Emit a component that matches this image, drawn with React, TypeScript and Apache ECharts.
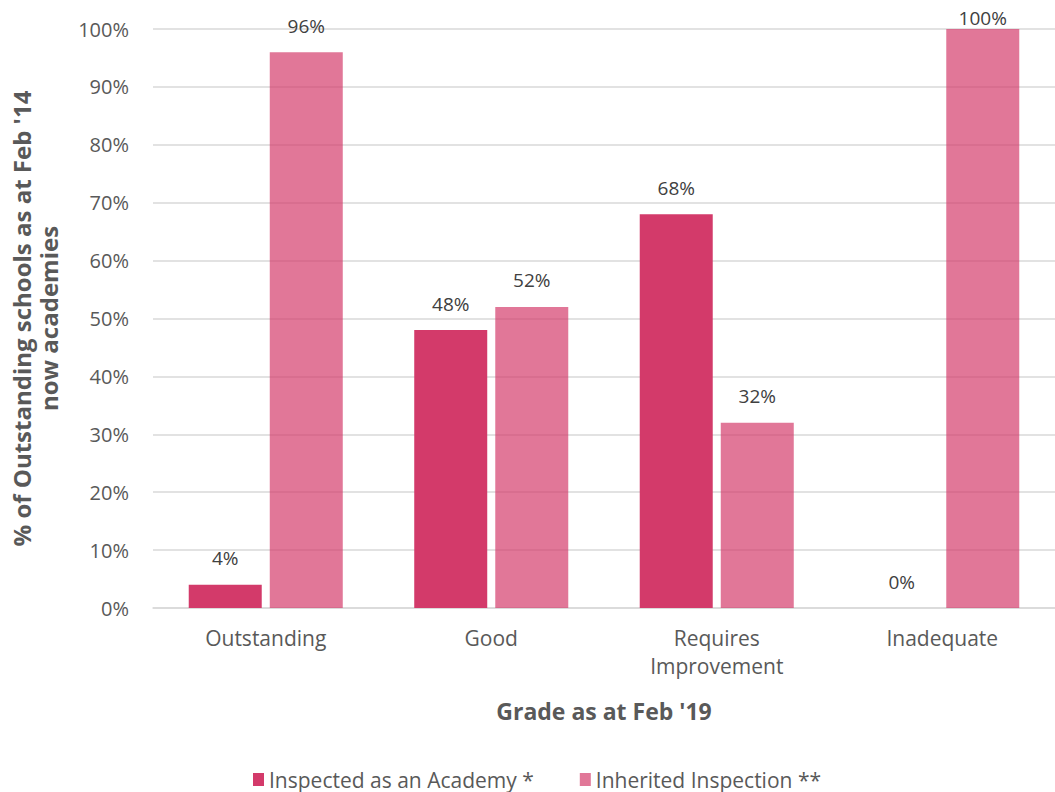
import React, { useEffect, useRef } from "react";
import * as echarts from "echarts";

const categories = ["Outstanding", "Good", "Requires\nImprovement", "Inadequate"];
const academyValues = [4, 48, 68, 0];
const inheritedValues = [96, 52, 32, 100];
const seriesNames = ["Inspected as an Academy *", "Inherited Inspection **"];

const FONT = "'Open Sans', sans-serif";
const DARK = "#d33a6a";
const LIGHT = "rgba(211,58,106,0.69)";

export default function App() {
  const ref = useRef<HTMLDivElement>(null);
  useEffect(() => {
    if (!ref.current) return;
    const chart = echarts.init(ref.current, null, { renderer: "svg" });
    const labelFor = (v: number) => ({
      show: true,
      position: "top",
      distance: v >= 100 ? 2 : 17,
      formatter: "{c}%",
      color: "#404040",
      fontSize: 19,
      fontFamily: FONT,
    });
    chart.setOption({
      animation: false,
      textStyle: { fontFamily: FONT },
      legend: {
        left: 248,
        top: 764,
        itemWidth: 11,
        itemHeight: 13,
        itemGap: 46,
        icon: "rect",
        textStyle: { color: "#595959", fontSize: 21, fontFamily: FONT },
        data: seriesNames,
      },
      grid: { left: 153, top: 29, width: 908, height: 579 },
      xAxis: {
        type: "category",
        data: categories,
        name: "Grade as at Feb '19",
        nameLocation: "middle",
        nameGap: 91,
        nameTextStyle: { color: "#595959", fontSize: 23, fontWeight: "bold", fontFamily: FONT },
        axisLine: { show: true, lineStyle: { color: "#d9d9d9", width: 1.5 } },
        axisTick: { show: false },
        axisLabel: { color: "#595959", fontSize: 21, lineHeight: 28, margin: 16, fontFamily: FONT },
      },
      yAxis: {
        type: "value",
        min: 0,
        max: 100,
        interval: 10,
        name: "% of Outstanding schools as at Feb '14\nnow academies",
        nameLocation: "middle",
        nameRotate: 90,
        nameGap: 91,
        nameTextStyle: {
          color: "#595959",
          fontSize: 24,
          fontWeight: "bold",
          lineHeight: 27,
          fontFamily: FONT,
        },
        axisLabel: { formatter: "{value}%", color: "#595959", fontSize: 20, margin: 24, fontFamily: FONT },
        splitLine: { lineStyle: { color: "#d9d9d9", width: 1.5 } },
        axisLine: { show: false },
        axisTick: { show: false },
      },
      series: [
        {
          name: seriesNames[0],
          type: "bar",
          barWidth: 73,
          barGap: "11%",
          itemStyle: { color: DARK },
          data: academyValues.map((v) => ({ value: v, label: labelFor(v) })),
        },
        {
          name: seriesNames[1],
          type: "bar",
          barWidth: 73,
          barGap: "11%",
          itemStyle: { color: LIGHT },
          data: inheritedValues.map((v) => ({ value: v, label: labelFor(v) })),
        },
      ],
    });
    return () => chart.dispose();
  }, []);
  return (
    <div
      ref={ref}
      style={{ position: "absolute", left: 0, top: 0, width: 1055, height: 792, background: "#fff" }}
    />
  );
}
